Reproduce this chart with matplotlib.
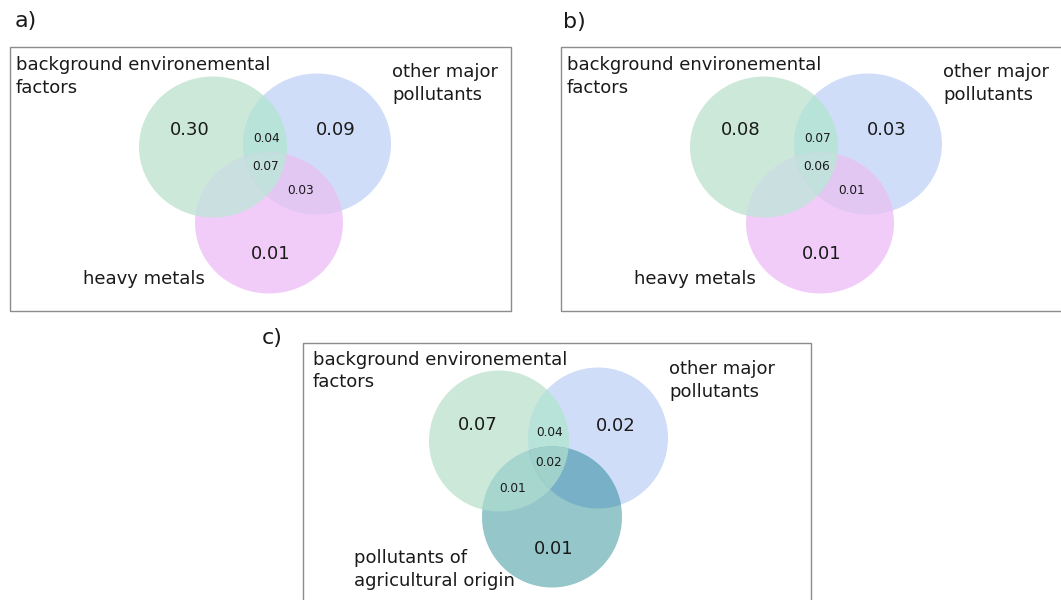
import numpy as np
import matplotlib
matplotlib.use('Agg')
import matplotlib.pyplot as plt
from matplotlib.patches import Ellipse, Polygon, Rectangle

# valores de cada region del venn (A=fondo ambiental, B=otros contaminantes, C=tercer grupo)
nombres_ab = ['background environemental\nfactors', 'other major\npollutants', 'heavy metals']
nombres_c = ['background environemental\nfactors', 'other major\npollutants',
             'pollutants of\nagricultural origin']
regiones_ab = ['A', 'B', 'C', 'AB', 'ABC', 'BC']
regiones_c = ['A', 'B', 'C', 'AB', 'ABC', 'AC']
valores_a = [0.30, 0.09, 0.01, 0.04, 0.07, 0.03]
valores_b = [0.08, 0.03, 0.01, 0.07, 0.06, 0.01]
valores_c = [0.07, 0.02, 0.01, 0.04, 0.02, 0.01]
paneles = ['a)', 'b)', 'c)']

# colores
col_ab = {'A': '#cce8d9', 'B': '#d0ddf8', 'C': '#f2ccf8',
          'AB': '#b8e3d9', 'AC': '#c9dfe0', 'BC': '#e1c7f2', 'ABC': '#c2e0dc'}
col_c = {'A': '#cce8d9', 'B': '#d0ddf8', 'C': '#95c6ca',
         'AB': '#b8e3d9', 'AC': '#a6d6ce', 'BC': '#78b0c7', 'ABC': '#a0d2cb'}
txt = '#1a1a1a'

fig = plt.figure(figsize=(10.61, 6.0), dpi=100)
ax = fig.add_axes([0, 0, 1, 1])
ax.set_xlim(0, 1061)
ax.set_ylim(600, 0)
ax.axis('off')


def lente(e1, e2, n=720):
    t = np.linspace(0, 2 * np.pi, n, endpoint=False)
    pts = []
    for c, o in ((e1, e2), (e2, e1)):
        x = c[0] + c[2] / 2 * np.cos(t)
        y = c[1] + c[3] / 2 * np.sin(t)
        dentro = ((x - o[0]) / (o[2] / 2)) ** 2 + ((y - o[1]) / (o[3] / 2)) ** 2 <= 1
        pts.append(np.column_stack([x[dentro], y[dentro]]))
    p = np.vstack(pts)
    m = p.mean(0)
    return p[np.argsort(np.arctan2(p[:, 1] - m[1], p[:, 0] - m[0]))]


def venn(x0, y0, ancho, alto, circ, tam, nombres, regiones, valores, pos_val, pos_nom, col):
    ax.add_patch(Rectangle((x0, y0), ancho, alto, fill=False, ec='#8c8c8c', lw=1.0))
    el = {}
    for k, (cx, cy) in zip('ABC', circ):
        el[k] = (x0 + cx, y0 + cy, tam[0], tam[1])
        ax.add_patch(Ellipse((x0 + cx, y0 + cy), tam[0], tam[1], fc=col[k], ec='none'))
    for par in ['AB', 'AC', 'BC']:
        ax.add_patch(Polygon(lente(el[par[0]], el[par[1]]), fc=col[par], ec='none'))
    clip = Ellipse(el['C'][:2], tam[0], tam[1], transform=ax.transData)
    tri = Polygon(lente(el['A'], el['B']), fc=col['ABC'], ec='none')
    ax.add_patch(tri)
    tri.set_clip_path(clip)
    for r, v in zip(regiones, valores):
        px, py = pos_val[r]
        fs = 13 if len(r) == 1 else 8.7
        ax.text(x0 + px, y0 + py, f'{v:.2f}', ha='center', va='center', fontsize=fs, color=txt)
    for nom, (px, py) in zip(nombres, pos_nom):
        ax.text(x0 + px, y0 + py, nom, ha='left', va='center', fontsize=13,
                color=txt, linespacing=1.3)


pos_ab = {'A': (180, 83), 'B': (326, 83), 'C': (261, 207),
          'AB': (257, 91), 'ABC': (256, 120), 'BC': (291, 144)}
nom_ab = [(6, 29.5), (382, 36.5), (73, 232)]
circ_ab = [(203, 100), (307, 97), (259, 176)]

venn(10, 47, 501, 264, circ_ab, (148, 141), nombres_ab, regiones_ab, valores_a, pos_ab, nom_ab, col_ab)
venn(561, 47, 520, 264, circ_ab, (148, 141), nombres_ab, regiones_ab, valores_b, pos_ab, nom_ab, col_ab)

pos_c = {'A': (175, 82), 'B': (313, 83), 'C': (251, 206),
         'AB': (247, 90), 'ABC': (246, 119), 'AC': (210, 145)}
nom_c = [(10, 28), (366, 37.5), (51, 226.5)]
circ_c = [(196, 98), (295, 95), (249, 174)]
venn(303, 343, 508, 300, circ_c, (140, 141), nombres_c, regiones_c, valores_c, pos_c, nom_c, col_c)

for p, (x, y) in zip(paneles, [(15, 21), (563, 22), (262, 338)]):
    ax.text(x, y, p, ha='left', va='center', fontsize=16, color=txt)

fig.savefig('out.png', dpi=100)
